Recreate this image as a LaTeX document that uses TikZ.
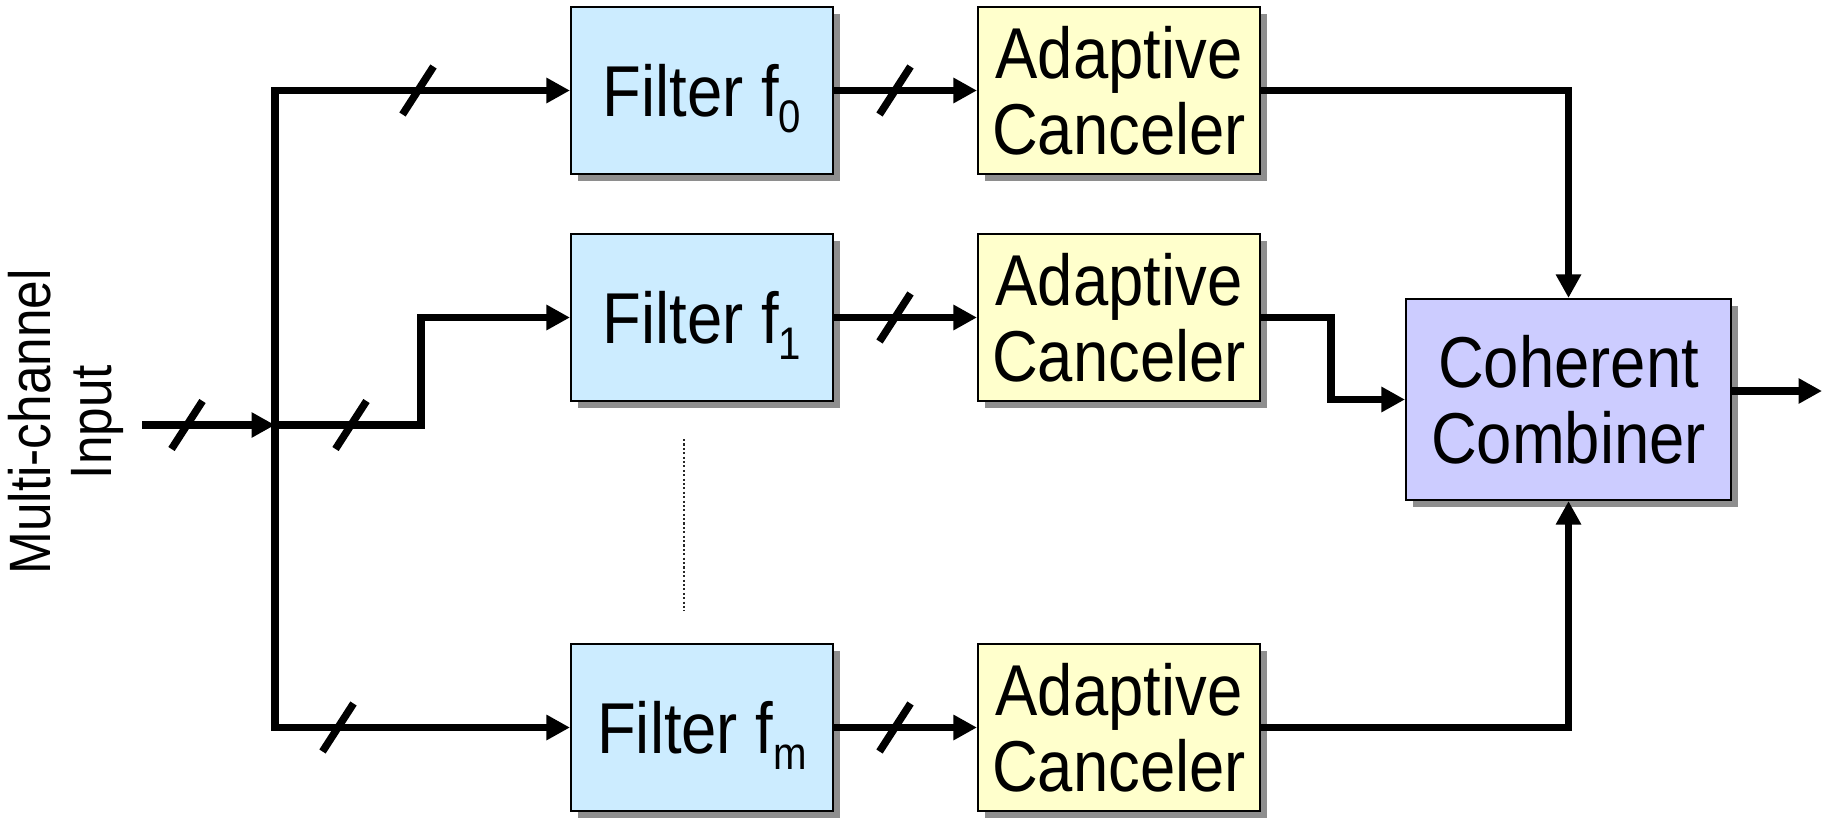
\documentclass[tikz,border=0pt]{standalone}
\usepackage{fontspec}
\setmainfont{Liberation Sans}
% slightly condensed face: tall letters on a narrow set width
\newfontfamily\tallsans[FakeStretch=0.88]{Liberation Sans}
\usetikzlibrary{arrows.meta,shadows,calc}

\definecolor{filterfill}{HTML}{CCECFF}
\definecolor{cancelfill}{HTML}{FFFFCC}
\definecolor{combfill}{HTML}{CCCCFF}
\definecolor{shadowgray}{HTML}{8E8E8E}

% subscript hanging below the baseline without changing the box height
\newcommand{\lowsub}[1]{\raisebox{-4.5pt}[0pt][0pt]{\fontsize{13}{13}\selectfont #1}}

\tikzset{
  block/.style={draw=black, line width=0.6pt, inner sep=0pt, align=center,
    font=\tallsans\fontsize{20.5}{21.5}\selectfont,
    drop shadow={shadow xshift=0.065cm, shadow yshift=-0.065cm, fill=shadowgray, opacity=1}},
  filterbox/.style={block, fill=filterfill, minimum width=2.62cm, minimum height=1.67cm},
  cancelbox/.style={block, fill=cancelfill, minimum width=2.82cm, minimum height=1.67cm},
  combbox/.style={block, fill=combfill, minimum width=3.25cm, minimum height=2.01cm},
  wire/.style={line width=0.075cm, line join=miter, line cap=butt},
  arr/.style={wire, -{Triangle[width=0.24cm, length=0.235cm]}},
  busmark/.pic={\draw[line width=0.075cm] (-0.155,-0.24) -- (0.155,0.24);}
}

\begin{document}
\begin{tikzpicture}
\useasboundingbox (0,0) rectangle (18.25,-8.17);

% processing blocks
\node[filterbox] (f0) at (7.02,-0.905) {Filter f\lowsub{0}};
\node[filterbox] (f1) at (7.02,-3.175) {Filter f\lowsub{1}};
\node[filterbox] (fm) at (7.02,-7.275) {Filter f\lowsub{m}};

\node[cancelbox] (ac0) at (11.19,-0.905) {Adaptive\\Canceler};
\node[cancelbox] (ac1) at (11.19,-3.175) {Adaptive\\Canceler};
\node[cancelbox] (acm) at (11.19,-7.275) {Adaptive\\Canceler};

\node[combbox] (comb) at (15.685,-3.995) {Coherent\\Combiner};

% input label
\node[rotate=90, align=center, inner sep=0pt, font=\tallsans\fontsize{16.6}{17.3}\selectfont] (inlabel) at (0.66,-4.22) {Multi-channel\\Input};

% bus points
\coordinate (inp) at (1.42,-4.25);
\coordinate (junc) at (2.75,-4.25);
\coordinate (bustop) at (2.75,-0.905);
\coordinate (busbot) at (2.75,-7.275);
\coordinate (stepx) at (4.21,-4.25);
\coordinate (outp) at (18.22,-3.91);

% input and distribution bus
\draw[arr] (inp) -- (junc);
\draw[arr] (busbot) -- (bustop) -- (f0.west);
\draw[arr] (bustop) -- (busbot) -- (fm.west);
\draw[arr] (junc) -- (stepx) |- (f1.west);

% filters to cancelers
\draw[arr] (f0) -- (ac0);
\draw[arr] (f1) -- (ac1);
\draw[arr] (fm) -- (acm);

% cancelers to combiner
\draw[arr] (ac0.east) -| (comb.north);
\draw[arr] (ac1.east) -- ++(0.70,0) |- (comb.west);
\draw[arr] (acm.east) -| (comb.south);

% output
\draw[arr] (comb.east |- outp) -- (outp);

% multi-channel marks
\pic at (1.87,-4.25) {busmark};
\pic at (4.18,-0.905) {busmark};
\pic at (3.51,-4.25) {busmark};
\pic at (3.38,-7.275) {busmark};
\pic at (8.95,-0.905) {busmark};
\pic at (8.95,-3.175) {busmark};
\pic at (8.95,-7.275) {busmark};

% further channels between f1 and fm
\draw[line width=0.6pt, dash pattern=on 0.6pt off 0.65pt, black!85] (6.84,-4.39) -- (6.84,-6.11);
\end{tikzpicture}
\end{document}
